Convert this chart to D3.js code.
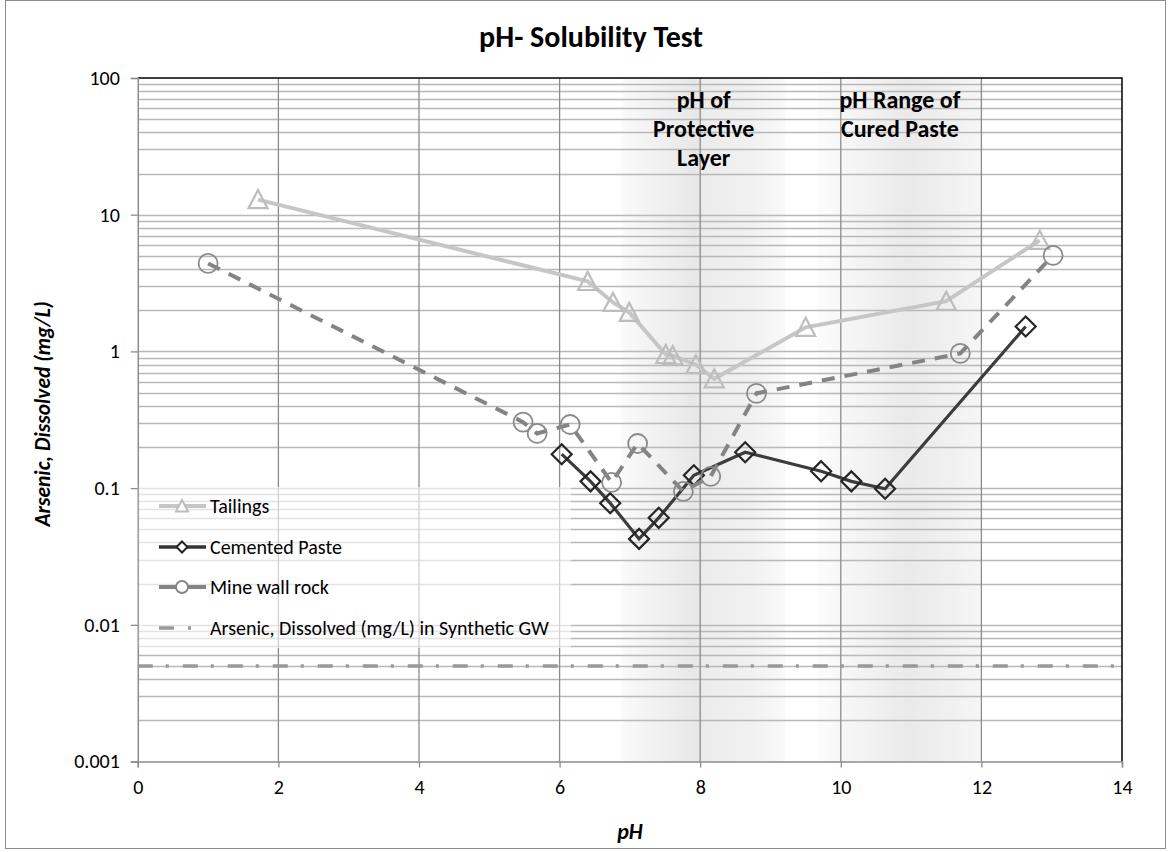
<!DOCTYPE html>
<html>
<head>
<meta charset="utf-8">
<script src="https://cdn.jsdelivr.net/npm/d3@7"></script>
<style>
  body { margin: 0; background: #fff; }
  svg { display: block; font-family: Carlito, Lato, "Open Sans", sans-serif; }
</style>
</head>
<body>
<script>
// values
var phTailings = [1.71, 6.40, 6.76, 6.99, 7.51, 7.61, 7.94, 8.20, 9.50, 11.50, 12.83];
var asTailings = [12.9, 3.25, 2.28, 1.93, 0.95, 0.93, 0.80, 0.63, 1.50, 2.33, 6.5];

var phPaste = [6.03, 6.44, 6.72, 7.13, 7.41, 7.91, 8.64, 9.72, 10.15, 10.63, 12.63];
var asPaste = [0.177, 0.112, 0.0776, 0.0425, 0.0606, 0.124, 0.183, 0.133, 0.112, 0.099, 1.52];

var phRock = [1.00, 5.48, 5.68, 6.15, 6.74, 7.11, 7.76, 8.15, 8.80, 11.70, 13.02];
var asRock = [4.4, 0.304, 0.251, 0.292, 0.110, 0.212, 0.0945, 0.122, 0.493, 0.967, 5.04];

var phGW = [0, 14];
var asGW = [0.005, 0.005];

var seriesNames = ["Tailings", "Cemented Paste", "Mine wall rock", "Arsenic, Dissolved (mg/L) in Synthetic GW"];
var xTicks = [0, 2, 4, 6, 8, 10, 12, 14];
var yTicks = [0.001, 0.01, 0.1, 1, 10, 100];
var yTickLabels = ["0.001", "0.01", "0.1", "1", "10", "100"];

// shaded pH ranges and their labels
var bandFrom = [6.88, 9.67];
var bandTo = [9.21, 12.0];
var bandLabelPh = [8.05, 10.84];
var bandLabels = [["pH of", "Protective", "Layer"], ["pH Range of", "Cured Paste"]];

var W = 1171, H = 852;
var pLeft = 137.8, pRight = 1122, pTop = 78, pBottom = 761.5;

var svg = d3.select("body").append("svg")
    .attr("width", W)
    .attr("height", H);

var x = d3.scaleLinear().domain([0, 14]).range([pLeft, pRight]);
var y = d3.scaleLog().domain([0.001, 100]).range([pBottom, pTop]);

// outer chart border
svg.append("rect")
    .attr("x", 5.5).attr("y", 0.5).attr("width", W - 11).attr("height", H - 4)
    .attr("fill", "#fff").attr("stroke", "#8c8c8c").attr("stroke-width", 1);

// gradients for the two bands
var defs = svg.append("defs");
var gradStops = [
    [[0, "#fafafa"], [0.47, "#e7e7e7"], [0.5, "#ececec"], [0.8, "#f1f1f1"], [1, "#f9f9f9"]],
    [[0, "#fcfcfc"], [0.55, "#eaeaea"], [0.8, "#f0f0f0"], [1, "#f6f6f6"]]
];
gradStops.forEach(function(stops, i) {
    var g = defs.append("linearGradient").attr("id", "band" + i)
        .attr("x1", 0).attr("x2", 1).attr("y1", 0).attr("y2", 0);
    stops.forEach(function(s) {
        g.append("stop").attr("offset", s[0]).attr("stop-color", s[1]);
    });
});

svg.selectAll("rect.band")
    .data(bandFrom)
    .enter().append("rect")
    .attr("class", "band")
    .attr("x", function(d) { return x(d); })
    .attr("width", function(d, i) { return x(bandTo[i]) - x(d); })
    .attr("y", pTop).attr("height", pBottom - pTop)
    .attr("fill", function(d, i) { return "url(#band" + i + ")"; });

// horizontal gridlines (log minor + major)
var hGrid = y.ticks().filter(function(v) { return v > 0.0011 && v < 99; });
svg.append("g").selectAll("line")
    .data(hGrid)
    .enter().append("line")
    .attr("x1", pLeft).attr("x2", pRight)
    .attr("y1", function(d) { return Math.round(y(d)) + 0.5; })
    .attr("y2", function(d) { return Math.round(y(d)) + 0.5; })
    .attr("stroke", "#b8b8b8").attr("stroke-width", 1.3);

// vertical gridlines
svg.append("g").selectAll("line")
    .data(xTicks.filter(function(v) { return v > 0 && v < 14; }))
    .enter().append("line")
    .attr("x1", function(d) { return x(d); }).attr("x2", function(d) { return x(d); })
    .attr("y1", pTop).attr("y2", pBottom)
    .attr("stroke", "#8c8c8c").attr("stroke-width", 1.3);

// plot border top / right
svg.append("path")
    .attr("d", "M" + pLeft + "," + pTop + "H" + pRight + "V" + pBottom)
    .attr("fill", "none").attr("stroke", "#000").attr("stroke-width", 1.5);

// axes
var yAxis = svg.append("g")
    .attr("transform", "translate(" + pLeft + ",0)")
    .call(d3.axisLeft(y).tickValues(yTicks)
        .tickFormat(function(d, i) { return yTickLabels[i]; })
        .tickSize(7).tickPadding(11));
var xAxis = svg.append("g")
    .attr("transform", "translate(0," + pBottom + ")")
    .call(d3.axisBottom(x).tickValues(xTicks).tickSize(6).tickPadding(12));
[yAxis, xAxis].forEach(function(a) {
    a.select(".domain").attr("stroke", "#8c8c8c").attr("stroke-width", 1.5);
    a.selectAll(".tick line").attr("stroke", "#8c8c8c").attr("stroke-width", 1.3);
    a.selectAll("text").attr("font-size", 20).attr("fill", "#000")
        .attr("font-family", "Carlito, Lato, sans-serif");
});

// band labels
bandLabels.forEach(function(lines, i) {
    var cx = x(bandLabelPh[i]);
    var t = svg.append("text")
        .attr("text-anchor", "middle")
        .attr("font-weight", "bold").attr("font-size", 24).attr("fill", "#000");
    lines.forEach(function(s, k) {
        t.append("tspan").attr("x", cx).attr("y", 108 + k * 29).text(s);
    });
});

// markers
function triangle(s) { return "M0," + (-s) + "L" + s + "," + (s * 0.9) + "L" + (-s) + "," + (s * 0.9) + "Z"; }
function diamond(s) { return "M0," + (-s) + "L" + s + ",0L0," + s + "L" + (-s) + ",0Z"; }

var line = d3.line()
    .x(function(d) { return x(d[0]); })
    .y(function(d) { return y(d[1]); });

var tailings = d3.zip(phTailings, asTailings);
var paste = d3.zip(phPaste, asPaste);
var rock = d3.zip(phRock, asRock);
var gw = d3.zip(phGW, asGW);

// Tailings
svg.append("path").datum(tailings).attr("d", line)
    .attr("fill", "none").attr("stroke", "#c6c6c6").attr("stroke-width", 4);
svg.append("g").selectAll("path").data(tailings).enter().append("path")
    .attr("d", triangle(9.5))
    .attr("transform", function(d) { return "translate(" + x(d[0]) + "," + y(d[1]) + ")"; })
    .attr("fill", "none").attr("stroke", "#bdbdbd").attr("stroke-width", 2.2);

// Cemented paste
svg.append("path").datum(paste).attr("d", line)
    .attr("fill", "none").attr("stroke", "#3c3c3c").attr("stroke-width", 3.2);
svg.append("g").selectAll("path").data(paste).enter().append("path")
    .attr("d", diamond(10))
    .attr("transform", function(d) { return "translate(" + x(d[0]) + "," + y(d[1]) + ")"; })
    .attr("fill", "none").attr("stroke", "#262626").attr("stroke-width", 2.2);

// Mine wall rock
svg.append("path").datum(rock).attr("d", line)
    .attr("fill", "none").attr("stroke", "#848484").attr("stroke-width", 4)
    .attr("stroke-dasharray", "13,10");
svg.append("g").selectAll("circle").data(rock).enter().append("circle")
    .attr("cx", function(d) { return x(d[0]); })
    .attr("cy", function(d) { return y(d[1]); })
    .attr("r", 9.5)
    .attr("fill", "none").attr("stroke", "#8a8a8a").attr("stroke-width", 1.8);

// synthetic groundwater
svg.append("path").datum(gw).attr("d", line)
    .attr("fill", "none").attr("stroke", "#999").attr("stroke-width", 3.5)
    .attr("stroke-dasharray", "15,13,3,14");

// legend
var lg = svg.append("g");
lg.append("rect")
    .attr("x", pLeft + 1).attr("y", 487).attr("width", 432).attr("height", 161)
    .attr("fill", "#fff").attr("fill-opacity", 0.6);
var legY = [506, 547, 587, 628];
var lx1 = 159, lx2 = 206, lm = 182;
// tailings
lg.append("line").attr("x1", lx1).attr("x2", lx2).attr("y1", legY[0]).attr("y2", legY[0])
    .attr("stroke", "#c6c6c6").attr("stroke-width", 4);
lg.append("path").attr("d", triangle(6)).attr("transform", "translate(" + lm + "," + legY[0] + ")")
    .attr("fill", "#fff").attr("stroke", "#bdbdbd").attr("stroke-width", 2);
// paste
lg.append("line").attr("x1", lx1).attr("x2", lx2).attr("y1", legY[1]).attr("y2", legY[1])
    .attr("stroke", "#333").attr("stroke-width", 3.5);
lg.append("path").attr("d", diamond(5.5)).attr("transform", "translate(" + lm + "," + legY[1] + ")")
    .attr("fill", "#fff").attr("stroke", "#222").attr("stroke-width", 2);
// rock
lg.append("line").attr("x1", lx1).attr("x2", lx2).attr("y1", legY[2]).attr("y2", legY[2])
    .attr("stroke", "#848484").attr("stroke-width", 4);
lg.append("circle").attr("cx", lm).attr("cy", legY[2]).attr("r", 6)
    .attr("fill", "#fff").attr("stroke", "#848484").attr("stroke-width", 1.8);
// gw
lg.append("line").attr("x1", lx1).attr("x2", lx2).attr("y1", legY[3]).attr("y2", legY[3])
    .attr("stroke", "#999").attr("stroke-width", 3.5).attr("stroke-dasharray", "15,14,3,30");
lg.selectAll("text").data(seriesNames).enter().append("text")
    .attr("x", 210).attr("y", function(d, i) { return legY[i] + 7; })
    .attr("font-size", 20).attr("fill", "#000")
    .text(function(d) { return d; });

// titles
svg.append("text")
    .attr("x", 591).attr("y", 47).attr("text-anchor", "middle")
    .attr("font-weight", "bold").attr("font-size", 30)
    .text("pH- Solubility Test");
svg.append("text")
    .attr("transform", "translate(50,414) rotate(-90)")
    .attr("text-anchor", "middle")
    .attr("font-weight", "bold").attr("font-style", "italic").attr("font-size", 21.5)
    .text("Arsenic, Dissolved (mg/L)");
svg.append("text")
    .attr("x", 630).attr("y", 839).attr("text-anchor", "middle")
    .attr("font-weight", "bold").attr("font-style", "italic").attr("font-size", 22)
    .text("pH");
</script>
</body>
</html>
